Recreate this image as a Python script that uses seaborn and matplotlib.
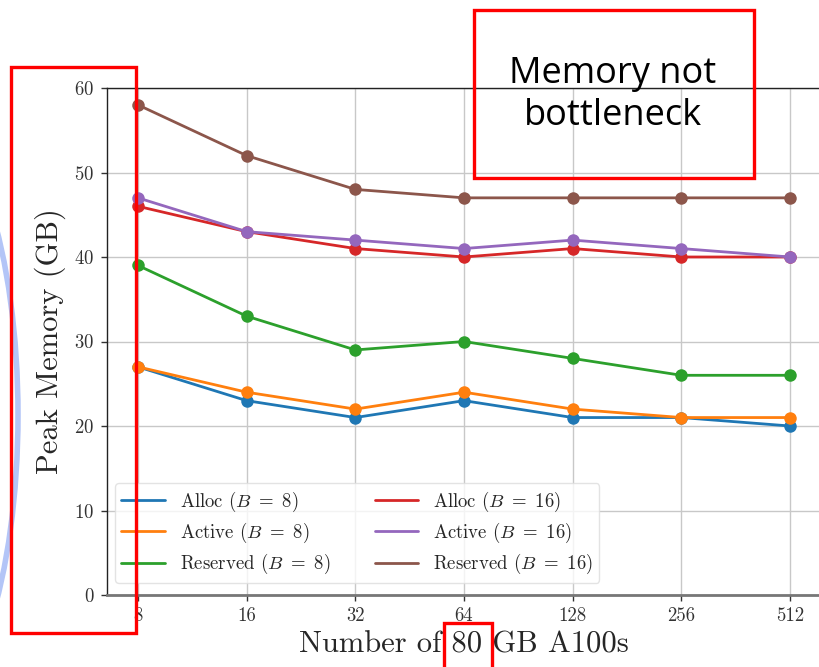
import matplotlib
matplotlib.use("Agg")
import matplotlib.pyplot as plt
import seaborn as sns
import pandas as pd
from matplotlib.lines import Line2D
from matplotlib.patches import Rectangle, Ellipse

gpus = [8, 16, 32, 64, 128, 256, 512]
alloc_b8 = [27, 23, 21, 23, 21, 21, 20]
active_b8 = [27, 24, 22, 24, 22, 21, 21]
reserved_b8 = [39, 33, 29, 30, 28, 26, 26]
alloc_b16 = [46, 43, 41, 40, 41, 40, 40]
active_b16 = [47, 43, 42, 41, 42, 41, 40]
reserved_b16 = [58, 52, 48, 47, 47, 47, 47]

series_names = [r"Alloc ($B\ =\ 8$)", r"Active ($B\ =\ 8$)", r"Reserved ($B\ =\ 8$)",
                r"Alloc ($B\ =\ 16$)", r"Active ($B\ =\ 16$)", r"Reserved ($B\ =\ 16$)"]
series_values = [alloc_b8, active_b8, reserved_b8, alloc_b16, active_b16, reserved_b16]

rows = []
for name, vals in zip(series_names, series_values):
    for g, v in zip(gpus, vals):
        rows.append({"gpus": g, "mem": v, "series": name})
df = pd.DataFrame(rows)

sns.set_theme(style="whitegrid")
plt.rcParams["font.family"] = ["cmr10", "DejaVu Serif"]
plt.rcParams["mathtext.fontset"] = "cm"
plt.rcParams["axes.formatter.use_mathtext"] = True

palette = sns.color_palette("tab10", 6)

fig = plt.figure(figsize=(8.19, 6.67), dpi=100)
ax = fig.add_axes([107 / 819, 1 - 595 / 667, 714 / 819, 507 / 667])

sns.lineplot(data=df, x="gpus", y="mem", hue="series", hue_order=series_names,
             palette=palette, marker="o", markersize=9, markeredgewidth=0,
             linewidth=2, ax=ax, legend=False)

ax.set_xscale("log", base=2)
ax.set_xlim(2 ** (3 - 0.285), 2 ** (9 + 0.285))
ax.set_ylim(0, 60)
ax.set_xticks(gpus)
ax.set_xticklabels([str(g) for g in gpus])
ax.minorticks_off()
ax.set_yticks([0, 10, 20, 30, 40, 50, 60])
ax.tick_params(axis="both", labelsize=13.5, length=4, width=1, colors="#333333",
               bottom=True, left=True, pad=5)
ax.grid(True, color="#c8c8c8", linewidth=1)
for s in ["left", "bottom", "top"]:
    ax.spines[s].set_visible(True)
    ax.spines[s].set_color("#222222")
    ax.spines[s].set_linewidth(1)
ax.spines["bottom"].set_color("#777777")
ax.spines["bottom"].set_linewidth(2)
ax.spines["right"].set_visible(False)

ax.set_xlabel("Number of 80 GB A100s", fontsize=22, labelpad=4)
ax.set_ylabel("Peak Memory (GB)", fontsize=22, labelpad=6)

handles = [Line2D([], [], color=c, lw=2) for c in palette]
leg = ax.legend(handles, series_names, loc="lower left", bbox_to_anchor=(0.011, 0.024),
                borderaxespad=0, ncol=2, fontsize=13.5, frameon=True, columnspacing=2.4,
                handlelength=2.3, handletextpad=0.8, borderpad=0.35, labelspacing=0.38)
leg.get_frame().set_edgecolor("#dddddd")

# overlay annotations (figure pixel coordinates converted to fractions)
W, H = 819, 667
def rect(x0, y0, x1, y1):
    r = Rectangle((x0 / W, 1 - y1 / H), (x1 - x0) / W, (y1 - y0) / H,
                  transform=fig.transFigure, fill=False, edgecolor="#ff0000",
                  linewidth=2.4, clip_on=False, zorder=10)
    fig.add_artist(r)

ell = Ellipse((-80 / W, 1 - 415 / H), 196 / W, 596 / H, transform=fig.transFigure,
              fill=False, edgecolor="#b3c5f7", linewidth=4, clip_on=False, zorder=9)
fig.add_artist(ell)

rect(11, 67, 136, 633)
rect(474, 10, 754, 178)
rect(444, 623, 492, 690)
fig.text(613 / W, 1 - 95 / H, "Memory not\nbottleneck", ha="center", va="center",
         fontsize=26, family=["Open Sans", "DejaVu Sans"], color="black",
         linespacing=1.25, zorder=11)

fig.savefig("out.png", dpi=100)
